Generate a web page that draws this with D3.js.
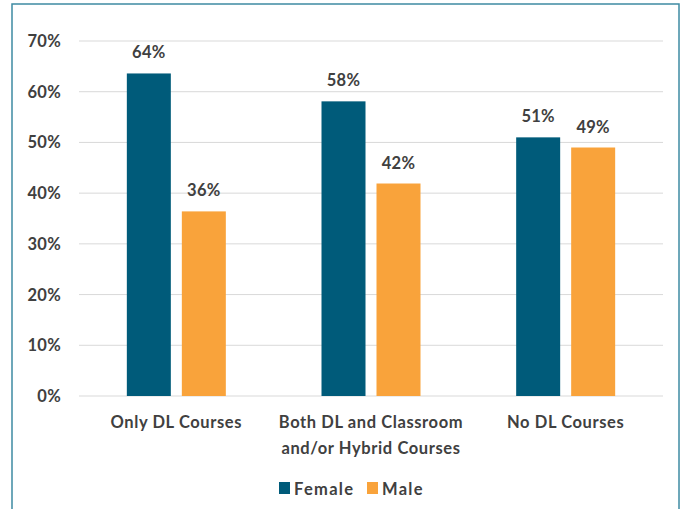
<!DOCTYPE html>
<html><head><meta charset="utf-8">
<script src="https://cdn.jsdelivr.net/npm/d3@7"></script>
<style>body{margin:0;background:#fff;} svg{display:block;}</style>
</head><body>
<script>
const categories = [["Only DL Courses"], ["Both DL and Classroom", "and/or Hybrid Courses"], ["No DL Courses"]];
const seriesNames = ["Female", "Male"];
const female = [63.6, 58.1, 51.0];
const male = [36.4, 41.9, 49.0];
const labelsFemale = ["64%", "58%", "51%"];
const labelsMale = ["36%", "42%", "49%"];
const yTicks = [0, 10, 20, 30, 40, 50, 60, 70];
const colors = ["#005B7A", "#F9A33B"];

(function () {
const W = 688, H = 509;
const svg = d3.select("body").append("svg").attr("width", W).attr("height", H);
svg.append("rect").attr("x", 12).attr("y", 4).attr("width", 667).attr("height", 510)
  .attr("fill", "#fff").attr("stroke", "#3E8BA3").attr("stroke-width", 1.5);

const font = "Lato, 'Open Sans', sans-serif";
const textColor = "#404040";
const fs = 16.5;
const pL = 79, pR = 663, pT = 41, pB = 396;
const x0 = d3.scaleBand().domain(d3.range(categories.length)).range([pL, pR]);
const y = d3.scaleLinear().domain([0, 70]).range([pB, pT]);

svg.append("g").selectAll("line").data(yTicks).join("line")
  .attr("x1", pL).attr("x2", pR).attr("y1", d => y(d)).attr("y2", d => y(d))
  .attr("stroke", "#D9D9D9").attr("stroke-width", 1);

svg.append("g").selectAll("text").data(yTicks).join("text")
  .attr("x", 61).attr("y", d => y(d)).attr("dy", "0.36em").attr("text-anchor", "end")
  .attr("font-family", font).attr("font-weight", "bold").attr("font-size", fs)
  .attr("letter-spacing", 0.3)
  .attr("fill", textColor).text(d => d + "%");

const barW = 44, gap = 11;
const series = [female, male];
const labels = [labelsFemale, labelsMale];
series.forEach((vals, s) => {
  const g = svg.append("g");
  const xc = i => x0(i) + x0.bandwidth() / 2 + (s === 0 ? -gap / 2 - barW : gap / 2);
  g.selectAll("rect").data(vals).join("rect")
    .attr("x", (d, i) => xc(i)).attr("width", barW)
    .attr("y", d => y(d)).attr("height", d => pB - y(d))
    .attr("fill", colors[s]);
  g.selectAll("text").data(vals).join("text")
    .attr("x", (d, i) => xc(i) + barW / 2).attr("y", d => y(d) - 15)
    .attr("text-anchor", "middle").attr("font-family", font).attr("font-weight", "bold")
    .attr("font-size", fs).attr("letter-spacing", 0.3).attr("fill", textColor)
    .text((d, i) => labels[s][i]);
});

const cat = svg.append("g").selectAll("text").data(categories).join("text")
  .attr("x", (d, i) => x0(i) + x0.bandwidth() / 2).attr("y", 428)
  .attr("text-anchor", "middle").attr("font-family", font).attr("font-weight", "bold")
  .attr("font-size", fs).attr("letter-spacing", 0.6).attr("fill", textColor);
cat.each(function(lines) {
  const t = d3.select(this);
  lines.forEach((l, j) => {
    t.append("tspan").attr("x", t.attr("x")).attr("dy", j === 0 ? 0 : 26).text(l);
  });
});

const leg = svg.append("g");
const legX = [279, 367];
seriesNames.forEach((n, s) => {
  leg.append("rect").attr("x", legX[s]).attr("y", 482).attr("width", 11).attr("height", 12).attr("fill", colors[s]);
  leg.append("text").attr("x", legX[s] + 15).attr("y", 494.5)
    .attr("font-family", font).attr("font-weight", "bold").attr("font-size", fs)
    .attr("letter-spacing", 1.3)
    .attr("fill", textColor).text(n);
});
})();
</script>
</body></html>
